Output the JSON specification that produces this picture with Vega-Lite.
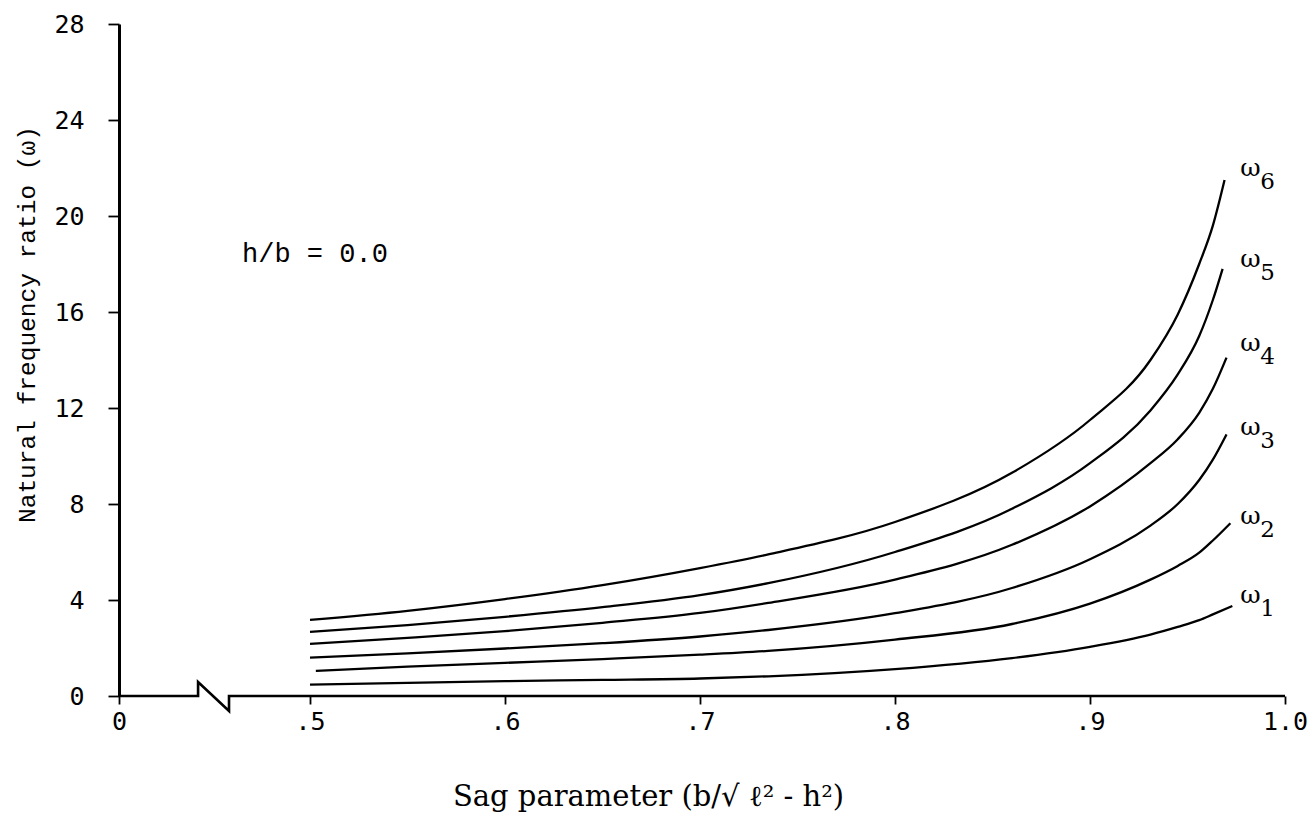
{
  "$schema": "https://vega.github.io/schema/vega-lite/v6.json",
  "autosize": {"type": "none"},
  "padding": {"left": 119, "top": 24, "right": 25, "bottom": 120},
  "width": 1166,
  "height": 672,
  "background": "white",
  "config": {
    "view": {"stroke": null},
    "axis": {"grid": false, "domainColor": "black", "tickColor": "black", "labelColor": "black", "titleColor": "black"}
  },
  "datasets": {
    "curves": [
      {"mode": "ω6", "x": 0.5, "y": 3.17}, {"mode": "ω6", "x": 0.55, "y": 3.55}, {"mode": "ω6", "x": 0.6, "y": 4.04}, {"mode": "ω6", "x": 0.65, "y": 4.62}, {"mode": "ω6", "x": 0.7, "y": 5.33}, {"mode": "ω6", "x": 0.735, "y": 5.9}, {"mode": "ω6", "x": 0.8, "y": 7.25}, {"mode": "ω6", "x": 0.86, "y": 9.3}, {"mode": "ω6", "x": 0.9, "y": 11.5}, {"mode": "ω6", "x": 0.931, "y": 14.0}, {"mode": "ω6", "x": 0.945, "y": 15.9}, {"mode": "ω6", "x": 0.956, "y": 18.0}, {"mode": "ω6", "x": 0.963, "y": 19.6}, {"mode": "ω6", "x": 0.969, "y": 21.5},
      {"mode": "ω5", "x": 0.5, "y": 2.67}, {"mode": "ω5", "x": 0.55, "y": 2.95}, {"mode": "ω5", "x": 0.6, "y": 3.3}, {"mode": "ω5", "x": 0.65, "y": 3.7}, {"mode": "ω5", "x": 0.7, "y": 4.2}, {"mode": "ω5", "x": 0.735, "y": 4.7}, {"mode": "ω5", "x": 0.8, "y": 6.0}, {"mode": "ω5", "x": 0.86, "y": 7.8}, {"mode": "ω5", "x": 0.9, "y": 9.7}, {"mode": "ω5", "x": 0.931, "y": 11.9}, {"mode": "ω5", "x": 0.945, "y": 13.4}, {"mode": "ω5", "x": 0.956, "y": 15.0}, {"mode": "ω5", "x": 0.963, "y": 16.5}, {"mode": "ω5", "x": 0.968, "y": 17.8},
      {"mode": "ω4", "x": 0.5, "y": 2.17}, {"mode": "ω4", "x": 0.55, "y": 2.42}, {"mode": "ω4", "x": 0.6, "y": 2.7}, {"mode": "ω4", "x": 0.65, "y": 3.05}, {"mode": "ω4", "x": 0.7, "y": 3.46}, {"mode": "ω4", "x": 0.735, "y": 3.88}, {"mode": "ω4", "x": 0.8, "y": 4.85}, {"mode": "ω4", "x": 0.86, "y": 6.3}, {"mode": "ω4", "x": 0.9, "y": 7.9}, {"mode": "ω4", "x": 0.931, "y": 9.7}, {"mode": "ω4", "x": 0.945, "y": 10.7}, {"mode": "ω4", "x": 0.956, "y": 11.8}, {"mode": "ω4", "x": 0.963, "y": 12.8}, {"mode": "ω4", "x": 0.97, "y": 14.1},
      {"mode": "ω3", "x": 0.5, "y": 1.6}, {"mode": "ω3", "x": 0.55, "y": 1.78}, {"mode": "ω3", "x": 0.6, "y": 1.98}, {"mode": "ω3", "x": 0.65, "y": 2.2}, {"mode": "ω3", "x": 0.7, "y": 2.48}, {"mode": "ω3", "x": 0.735, "y": 2.75}, {"mode": "ω3", "x": 0.8, "y": 3.45}, {"mode": "ω3", "x": 0.86, "y": 4.5}, {"mode": "ω3", "x": 0.9, "y": 5.7}, {"mode": "ω3", "x": 0.931, "y": 7.1}, {"mode": "ω3", "x": 0.945, "y": 8.0}, {"mode": "ω3", "x": 0.956, "y": 9.0}, {"mode": "ω3", "x": 0.963, "y": 9.85}, {"mode": "ω3", "x": 0.97, "y": 10.9},
      {"mode": "ω2", "x": 0.503, "y": 1.05}, {"mode": "ω2", "x": 0.55, "y": 1.22}, {"mode": "ω2", "x": 0.6, "y": 1.38}, {"mode": "ω2", "x": 0.65, "y": 1.54}, {"mode": "ω2", "x": 0.7, "y": 1.72}, {"mode": "ω2", "x": 0.735, "y": 1.88}, {"mode": "ω2", "x": 0.8, "y": 2.35}, {"mode": "ω2", "x": 0.86, "y": 3.0}, {"mode": "ω2", "x": 0.9, "y": 3.85}, {"mode": "ω2", "x": 0.931, "y": 4.85}, {"mode": "ω2", "x": 0.945, "y": 5.42}, {"mode": "ω2", "x": 0.956, "y": 5.97}, {"mode": "ω2", "x": 0.963, "y": 6.48}, {"mode": "ω2", "x": 0.972, "y": 7.2},
      {"mode": "ω1", "x": 0.5, "y": 0.47}, {"mode": "ω1", "x": 0.55, "y": 0.55}, {"mode": "ω1", "x": 0.6, "y": 0.62}, {"mode": "ω1", "x": 0.65, "y": 0.67}, {"mode": "ω1", "x": 0.7, "y": 0.73}, {"mode": "ω1", "x": 0.735, "y": 0.82}, {"mode": "ω1", "x": 0.8, "y": 1.12}, {"mode": "ω1", "x": 0.86, "y": 1.58}, {"mode": "ω1", "x": 0.9, "y": 2.05}, {"mode": "ω1", "x": 0.931, "y": 2.56}, {"mode": "ω1", "x": 0.945, "y": 2.88}, {"mode": "ω1", "x": 0.956, "y": 3.16}, {"mode": "ω1", "x": 0.963, "y": 3.4}, {"mode": "ω1", "x": 0.973, "y": 3.75}
    ],
    "brk": [
      {"x": 0, "y": 0, "o": 1},
      {"x": 0.207, "y": 0, "o": 2},
      {"x": 0.207, "y": 0.58, "o": 3},
      {"x": 0.288, "y": -0.625, "o": 4},
      {"x": 0.288, "y": 0, "o": 5},
      {"x": 1.0, "y": 0, "o": 6}
    ],
    "labels": [
      {"n": "6", "x": 0.977, "y": 22.0},
      {"n": "5", "x": 0.977, "y": 18.2},
      {"n": "4", "x": 0.977, "y": 14.7},
      {"n": "3", "x": 0.977, "y": 11.2},
      {"n": "2", "x": 0.977, "y": 7.5},
      {"n": "1", "x": 0.977, "y": 4.2}
    ],
    "note": [
      {"text": "h/b = 0.0", "x": 0.322, "y": 18.4}
    ]
  },
  "layer": [
    {
      "data": {"name": "brk"},
      "mark": {"type": "line", "color": "black", "strokeWidth": 2.6, "strokeJoin": "miter"},
      "encoding": {
        "x": {
          "field": "x", "type": "quantitative",
          "scale": {"type": "linear", "domain": [0, 0.5, 1], "range": [0, 191, 1166], "nice": false, "zero": false},
          "axis": {
            "values": [0, 0.5, 0.6, 0.7, 0.8, 0.9, 1],
            "labelExpr": "datum.value == 0 ? '0' : (datum.value == 1 ? '1.0' : '.' + round(datum.value * 10))",
            "domain": false,
            "tickSize": 8, "tickWidth": 1.8,
            "labelFont": "DejaVu Sans Mono", "labelFontSize": 25, "labelPadding": 5,
            "labelFlush": false, "labelOverlap": false,
            "title": "Sag parameter (b/√ ℓ² - h²)",
            "titleFont": "DejaVu Serif", "titleFontSize": 29, "titleFontWeight": "normal",
            "titleX": 529, "titleY": 109, "titleBaseline": "alphabetic", "titleAlign": "center"
          }
        },
        "y": {
          "field": "y", "type": "quantitative",
          "scale": {"domain": [0, 28], "nice": false, "zero": false},
          "axis": {
            "values": [0, 4, 8, 12, 16, 20, 24, 28],
            "domainWidth": 3, "tickSize": 11, "tickWidth": 1.8,
            "labelFont": "DejaVu Sans Mono", "labelFontSize": 25, "labelPadding": 24,
            "title": "Natural frequency ratio (ω)",
            "titleFont": "Liberation Mono", "titleFontSize": 24.5, "titleFontWeight": "normal",
            "titleAngle": -90, "titleX": -92, "titleY": 300, "titleAlign": "center", "titleBaseline": "middle"
          }
        },
        "order": {"field": "o", "type": "quantitative"}
      }
    },
    {
      "data": {"name": "curves"},
      "mark": {"type": "line", "color": "black", "strokeWidth": 2.3, "interpolate": "monotone"},
      "encoding": {
        "x": {"field": "x", "type": "quantitative"},
        "y": {"field": "y", "type": "quantitative"},
        "detail": {"field": "mode", "type": "nominal"}
      }
    },
    {
      "data": {"name": "labels"},
      "mark": {"type": "text", "text": "ω", "font": "DejaVu Serif", "fontSize": 25, "align": "left", "baseline": "middle", "color": "black"},
      "encoding": {
        "x": {"field": "x", "type": "quantitative"},
        "y": {"field": "y", "type": "quantitative"}
      }
    },
    {
      "data": {"name": "labels"},
      "mark": {"type": "text", "font": "DejaVu Serif", "fontSize": 23, "align": "left", "baseline": "middle", "dx": 20, "dy": 14, "color": "black"},
      "encoding": {
        "x": {"field": "x", "type": "quantitative"},
        "y": {"field": "y", "type": "quantitative"},
        "text": {"field": "n", "type": "nominal"}
      }
    },
    {
      "data": {"name": "note"},
      "mark": {"type": "text", "font": "Liberation Mono", "fontSize": 27, "align": "left", "baseline": "middle", "color": "black"},
      "encoding": {
        "x": {"field": "x", "type": "quantitative"},
        "y": {"field": "y", "type": "quantitative"},
        "text": {"field": "text", "type": "nominal"}
      }
    }
  ]
}
